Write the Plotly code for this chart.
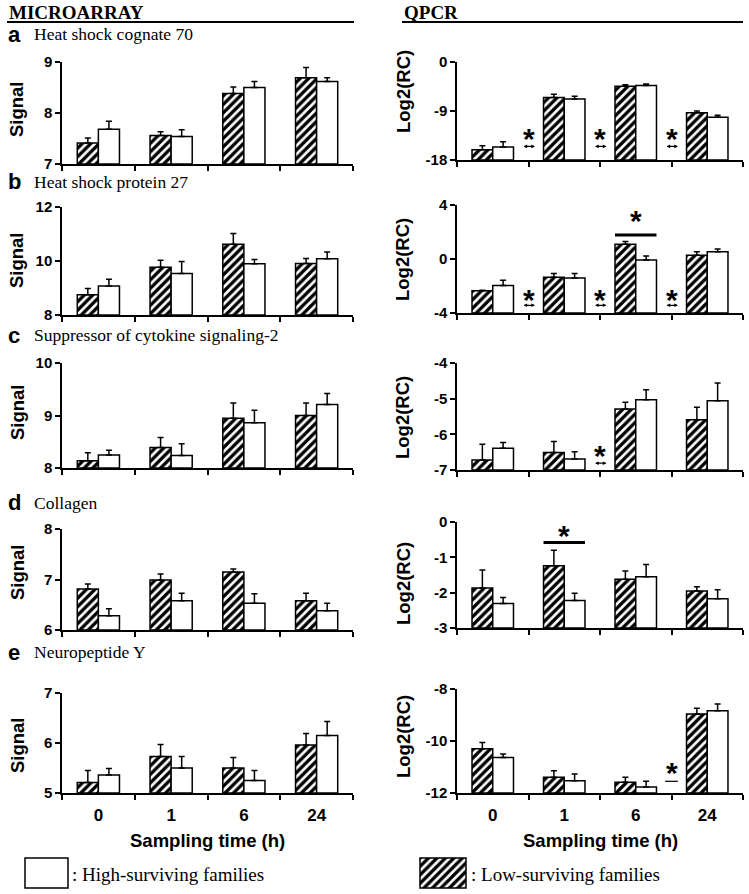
import plotly.graph_objects as go

# sampling times (h) and genes
times = ["0", "1", "6", "24"]
letters = ["a", "b", "c", "d", "e"]
genes = ["Heat shock cognate 70", "Heat shock protein 27",
         "Suppressor of cytokine signaling-2", "Collagen", "Neuropeptide Y"]

# microarray signal: low-surviving (hatched) and high-surviving (white) families
ma_low = [[7.41, 7.56, 8.38, 8.69], [8.75, 9.77, 10.62, 9.91], [8.14, 8.39, 8.95, 9.00],
          [6.81, 6.99, 7.15, 6.58], [5.21, 5.73, 5.50, 5.96]]
ma_low_err = [[0.10, 0.07, 0.13, 0.20], [0.23, 0.26, 0.40, 0.18], [0.15, 0.19, 0.29, 0.24],
              [0.10, 0.12, 0.06, 0.15], [0.24, 0.24, 0.21, 0.23]]
ma_high = [[7.68, 7.54, 8.50, 8.62], [9.07, 9.54, 9.90, 10.08], [8.25, 8.24, 8.86, 9.21],
           [6.28, 6.58, 6.53, 6.38], [5.36, 5.50, 5.25, 6.15]]
ma_high_err = [[0.16, 0.13, 0.12, 0.07], [0.25, 0.44, 0.16, 0.25], [0.09, 0.22, 0.24, 0.21],
               [0.14, 0.15, 0.19, 0.15], [0.13, 0.23, 0.20, 0.28]]

# qPCR log2(relative copies)
qp_low = [[-16.12, -6.51, -4.44, -9.31], [-2.36, -1.35, 1.10, 0.28], [-6.72, -6.51, -5.29, -5.59],
          [-1.87, -1.24, -1.62, -1.95], [-10.30, -11.39, -11.59, -8.96]]
qp_low_err = [[0.73, 0.60, 0.25, 0.30], [0.05, 0.28, 0.20, 0.25], [0.44, 0.31, 0.19, 0.35],
              [0.51, 0.44, 0.23, 0.12], [0.24, 0.25, 0.20, 0.22]]
qp_high = [[-15.63, -6.81, -4.32, -10.16], [-1.97, -1.40, -0.08, 0.54], [-6.39, -6.69, -5.03, -5.06],
           [-2.31, -2.22, -1.55, -2.17], [-10.63, -11.53, -11.77, -8.84]]
qp_high_err = [[1.00, 0.50, 0.30, 0.40], [0.40, 0.33, 0.30, 0.20], [0.16, 0.20, 0.28, 0.50],
               [0.17, 0.20, 0.35, 0.25], [0.13, 0.26, 0.22, 0.26]]

ma_ticks = [[7, 8, 9], [8, 10, 12], [8, 9, 10], [6, 7, 8], [5, 6, 7]]
qp_ticks = [[-18, -9, 0], [-4, 0, 4], [-7, -6, -5, -4], [-3, -2, -1, 0], [-12, -10, -8]]

# significance marks on qPCR panels: (panel, boundary between times, star y, arrow y)
sig_between = [(0, 0.5, -13.4, -15.5), (0, 1.5, -13.4, -15.5), (0, 2.5, -13.4, -15.5),
               (1, 0.5, -2.68, -3.43), (1, 1.5, -2.68, -3.43), (1, 2.5, -2.68, -3.43),
               (2, 1.5, -6.48, -6.81)]
sig_dash = [(4, 2.5, -11.04, -11.55)]
# (panel, time index, line y, star y)
sig_group = [(1, 2, 1.77, 3.13), (3, 1, -0.58, -0.28)]

W, H = 749, 894
def px(x): return x / W
def py(y): return 1 - y / H

col_x = [(62, 353), (457, 743)]
col_y = [[(62, 164), (207, 315), (363, 468), (529, 630), (693, 793)],
         [(62, 160), (205, 313), (363, 470), (522, 628), (689, 793)]]
ylab_y = [[109, 260, 412, 572, 745], [92, 260, 418, 584, 737]]
letter_y = [34, 182, 335, 503, 652]

SANS = "Liberation Sans"
SERIF = "Liberation Serif"
hatch = dict(shape="/", fgcolor="black", bgcolor="white", size=6, solidity=0.55, fillmode="replace")
star_font = dict(family=SANS, size=30, color="black", weight="bold")

fig = go.Figure()
layout = {}
annotations = []
shapes = []

for i in range(5):
    for c in range(2):
        n = 2 * i + c + 1
        xa = "x" if n == 1 else f"x{n}"
        ya = "y" if n == 1 else f"y{n}"
        ticks = ma_ticks[i] if c == 0 else qp_ticks[i]
        lo, hi = ticks[0], ticks[-1]
        low, low_err = (ma_low[i], ma_low_err[i]) if c == 0 else (qp_low[i], qp_low_err[i])
        high, high_err = (ma_high[i], ma_high_err[i]) if c == 0 else (qp_high[i], qp_high_err[i])

        for vals, errs, pat in [(low, low_err, hatch), (high, high_err, None)]:
            marker = dict(color="white", line=dict(color="black", width=1.5))
            if pat:
                marker["pattern"] = pat
            fig.add_trace(go.Bar(
                x=times, y=[v - lo for v in vals], base=lo, xaxis=xa, yaxis=ya,
                marker=marker, showlegend=False,
                error_y=dict(type="data", array=errs, arrayminus=[0] * 4, symmetric=False,
                             color="black", thickness=1.5, width=3)))

        x0, x1 = col_x[c]
        y0, y1 = col_y[c][i]
        layout[f"xaxis{n}"] = dict(
            domain=[px(x0), px(x1)], anchor=ya, type="category", categoryorder="array",
            categoryarray=times, range=[-0.5, 3.5], tickson="boundaries", ticks="outside",
            ticklen=5, tickwidth=1.5, tickcolor="black", showline=True, linecolor="black",
            linewidth=1.5, showgrid=False, zeroline=False, showticklabels=(i == 4),
            ticklabelstandoff=6, automargin=False,
            tickfont=dict(family=SANS, size=17, color="black", weight="bold"))
        layout[f"yaxis{n}"] = dict(
            domain=[py(y1), py(y0)], anchor=xa, range=[lo, hi], tickvals=ticks,
            ticktext=[str(t) for t in ticks], automargin=False,
            ticks="outside", ticklen=5, tickwidth=1.5, tickcolor="black", showline=True,
            linecolor="black", linewidth=1.5, showgrid=False, zeroline=False,
            tickfont=dict(family=SANS, size=15, color="black", weight="bold"))

        annotations.append(dict(
            text="Signal" if c == 0 else "Log2(RC)", xref="paper", yref="paper",
            x=px(17 if c == 0 else 403), y=py(ylab_y[c][i]), textangle=-90,
            xanchor="center", yanchor="middle", showarrow=False,
            font=dict(family=SANS, size=18.5, color="black", weight="bold")))

    annotations.append(dict(text=letters[i], xref="paper", yref="paper", x=px(6), y=py(letter_y[i]),
                            xanchor="left", yanchor="middle", showarrow=False,
                            font=dict(family=SANS, size=22, color="black", weight="bold")))
    annotations.append(dict(text=genes[i], xref="paper", yref="paper", x=px(32), y=py(letter_y[i]),
                            xanchor="left", yanchor="middle", showarrow=False,
                            font=dict(family=SERIF, size=17.5, color="black")))

# significance marks
for p, b, sy, ay in sig_between:
    n = 2 * p + 2
    annotations.append(dict(text="*", x=b, y=sy, xref=f"x{n}", yref=f"y{n}", showarrow=False,
                            yshift=-4, font=star_font))
    annotations.append(dict(text="", x=b + 0.09, y=ay, ax=b - 0.09, ay=ay, xref=f"x{n}", yref=f"y{n}",
                            axref=f"x{n}", ayref=f"y{n}", showarrow=True, arrowside="end+start",
                            arrowhead=2, startarrowhead=2, arrowsize=0.6, startarrowsize=0.6,
                            arrowwidth=1.2, arrowcolor="black"))
for p, b, sy, dy in sig_dash:
    n = 2 * p + 2
    annotations.append(dict(text="*", x=b, y=sy, xref=f"x{n}", yref=f"y{n}", showarrow=False,
                            yshift=-4, font=star_font))
    shapes.append(dict(type="line", xref=f"x{n}", yref=f"y{n}", x0=b - 0.09, x1=b + 0.09,
                       y0=dy, y1=dy, line=dict(color="black", width=1.2)))
for p, g, ly, sy in sig_group:
    n = 2 * p + 2
    shapes.append(dict(type="line", xref=f"x{n}", yref=f"y{n}", x0=g - 0.29, x1=g + 0.29,
                       y0=ly, y1=ly, line=dict(color="black", width=3)))
    annotations.append(dict(text="*", x=g, y=sy, xref=f"x{n}", yref=f"y{n}", showarrow=False,
                            yshift=-4, font=star_font))

# column headers
for label, x0, x1 in [("MICROARRAY", 7, 354), ("QPCR", 402, 743)]:
    annotations.append(dict(text=label, xref="paper", yref="paper", x=px(x0), y=py(13),
                            xanchor="left", yanchor="middle", showarrow=False,
                            font=dict(family=SERIF, size=19, color="black", weight="bold")))
    shapes.append(dict(type="line", xref="paper", yref="paper", x0=px(x0), x1=px(x1),
                       y0=py(22), y1=py(22), line=dict(color="black", width=2)))

for cx in [207, 600]:
    annotations.append(dict(text="Sampling time (h)", xref="paper", yref="paper", x=px(cx), y=py(840),
                            xanchor="center", yanchor="middle", showarrow=False,
                            font=dict(family=SANS, size=18.5, color="black", weight="bold")))

# legend swatches
fig.add_trace(go.Bar(x=[0], y=[1], width=1, xaxis="x11", yaxis="y11", showlegend=False,
                     marker=dict(color="white", line=dict(width=0), pattern=hatch)))
layout["xaxis11"] = dict(domain=[px(420), px(466)], anchor="y11", range=[-0.5, 0.5], visible=False,
                         automargin=False)
layout["yaxis11"] = dict(domain=[py(888), py(858)], anchor="x11", range=[0, 1], visible=False,
                         automargin=False)
shapes.append(dict(type="rect", xref="paper", yref="paper", x0=px(420), x1=px(466), y0=py(888),
                   y1=py(858), line=dict(color="black", width=1.5)))
shapes.append(dict(type="rect", xref="paper", yref="paper", x0=px(25), x1=px(68), y0=py(888),
                   y1=py(858), fillcolor="white", line=dict(color="black", width=1.5)))
for label, x0 in [(": High-surviving families", 70), (": Low-surviving families", 469)]:
    annotations.append(dict(text=label, xref="paper", yref="paper", x=px(x0), y=py(874),
                            xanchor="left", yanchor="middle", showarrow=False,
                            font=dict(family=SERIF, size=19, color="black")))

fig.update_layout(**layout)
fig.update_layout(width=W, height=H, margin=dict(l=0, r=0, t=0, b=0, autoexpand=False),
                  barmode="group", bargap=0.42, bargroupgap=0, plot_bgcolor="white",
                  paper_bgcolor="white", font=dict(family=SANS, color="black"), showlegend=False,
                  annotations=annotations, shapes=shapes)
# drop the browser's default page margin so the figure sits at the window origin
fig.write_html("out.html", config={"displayModeBar": False},
               post_script="document.body.style.margin = '0px';")
